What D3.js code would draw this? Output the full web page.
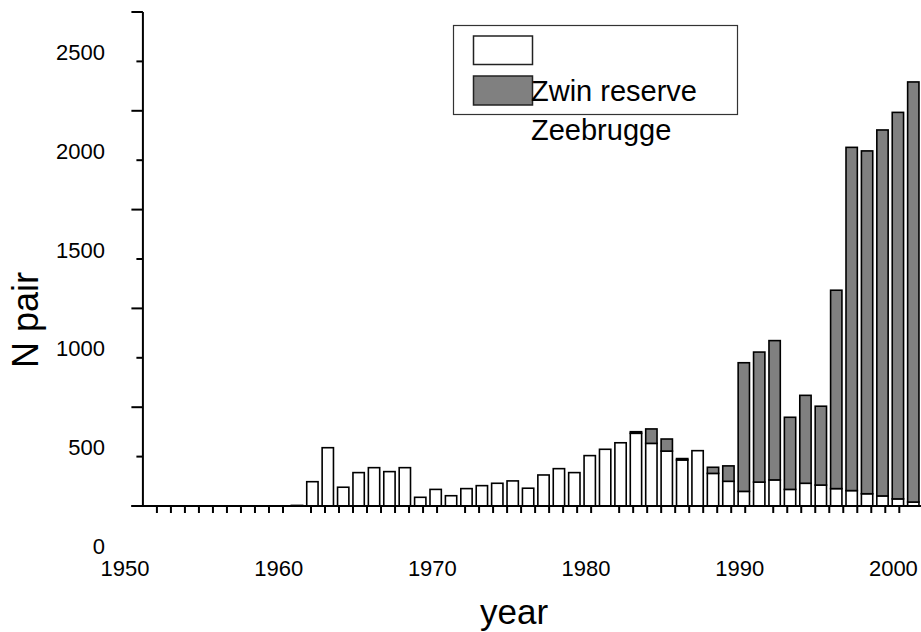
<!DOCTYPE html>
<html>
<head>
<meta charset="utf-8">
<script src="https://cdn.jsdelivr.net/npm/d3@7/dist/d3.min.js"></script>
<style>
  html, body { margin: 0; padding: 0; background: #fff; }
  svg { display: block; font-family: "Liberation Sans", Arial, sans-serif; }
</style>
</head>
<body>
<svg id="chart" width="921" height="632"></svg>
<script>
// ---- data ----
const years = d3.range(1961, 2002);
const zwin = [3, 123, 295, 95, 169, 194, 174, 194, 44, 84, 52, 88, 103, 115, 127, 90, 157, 189, 169, 255,
              287, 320, 368, 317, 278, 233, 280, 165, 125, 74, 121, 132, 84, 115, 106, 88, 78, 62, 51, 36, 20];
const zeebrugge = [0, 0, 0, 0, 0, 0, 0, 0, 0, 0, 0, 0, 0, 0, 0, 0, 0, 0, 0, 0,
                   0, 0, 8, 73, 61, 7, 0, 31, 78, 651, 658, 705, 365, 445, 399, 1004, 1737, 1735, 1852, 1956, 2126];
const seriesNames = ["Zwin reserve", "Zeebrugge"];
const yMajorTicks = [0, 500, 1000, 1500, 2000, 2500];
const yMinorTicks = [250, 750, 1250, 1750, 2250];
const xTickLabels = [1950, 1960, 1970, 1980, 1990, 2000];

const svg = d3.select("#chart");

const x = d3.scaleLinear().domain([1950, 2001]).range([127.5, 913.3]);
const y = d3.scaleLinear().domain([0, 2500]).range([506, 12]);
const step = x(1951) - x(1950);
const bw = step * 0.735;

const table = years.map((yr, i) => ({ year: yr, "Zwin reserve": zwin[i], "Zeebrugge": zeebrugge[i] }));
const stacked = d3.stack().keys(seriesNames)(table);
const fills = { "Zwin reserve": "#ffffff", "Zeebrugge": "#808080" };

// bars
svg.append("g").selectAll("g").data(stacked).join("g")
  .attr("fill", d => fills[d.key])
  .selectAll("rect").data(d => d.filter(p => p[1] - p[0] > 0)).join("rect")
  .attr("x", d => x(d.data.year) - bw / 2)
  .attr("width", bw)
  .attr("y", d => y(d[1]))
  .attr("height", d => Math.max(0.5, y(d[0]) - y(d[1])))
  .attr("stroke", "#000")
  .attr("stroke-width", 1.6);

// y axis
const ax = svg.append("g").attr("stroke", "#000").attr("stroke-width", 2);
ax.append("line").attr("x1", x(1951)).attr("x2", x(1951)).attr("y1", y(2500)).attr("y2", y(0));
ax.selectAll(".ymaj").data(yMajorTicks).join("line")
  .attr("x1", x(1951) - 11.5).attr("x2", x(1951))
  .attr("y1", d => y(d)).attr("y2", d => y(d));
ax.selectAll(".ymin").data(yMinorTicks).join("line")
  .attr("x1", x(1951) - 6.5).attr("x2", x(1951))
  .attr("y1", d => y(d)).attr("y2", d => y(d));

svg.append("g").selectAll("text").data(yMajorTicks).join("text")
  .attr("x", 105).attr("y", d => y(d) + 48)
  .attr("text-anchor", "end").attr("font-size", 22).attr("fill", "#000")
  .text(d => d);

// x axis
ax.append("line").attr("x1", x(1951) - 11.5).attr("x2", 921).attr("y1", y(0)).attr("y2", y(0));
const xMinor = d3.range(1, 55).filter(j => j % 11 !== 0).map(j => 1951 + j * 10 / 11);
ax.selectAll(".xmin").data(xMinor).join("line")
  .attr("x1", d => x(d)).attr("x2", d => x(d))
  .attr("y1", y(0)).attr("y2", y(0) + 7);

svg.append("g").selectAll("text").data(xTickLabels).join("text")
  .attr("x", d => x(d) - 2.5 - (d - 1950) * 0.04).attr("y", 576)
  .attr("text-anchor", "middle").attr("font-size", 22).attr("fill", "#000")
  .text(d => d);

// axis titles
svg.append("text").attr("x", 514).attr("y", 624).attr("text-anchor", "middle")
  .attr("font-size", 35).attr("fill", "#000").text("year");
svg.append("text").attr("transform", "translate(38,320) rotate(-90)").attr("text-anchor", "middle")
  .attr("font-size", 36).attr("fill", "#000").text("N pair");

// legend
const lg = svg.append("g");
lg.append("rect").attr("x", 453.5).attr("y", 25.5).attr("width", 284).attr("height", 89)
  .attr("fill", "none").attr("stroke", "#333").attr("stroke-width", 1.2);
lg.append("rect").attr("x", 473.5).attr("y", 36).attr("width", 59).attr("height", 28.5)
  .attr("fill", fills["Zwin reserve"]).attr("stroke", "#222").attr("stroke-width", 1.5);
lg.append("rect").attr("x", 473.5).attr("y", 76).attr("width", 59).attr("height", 29)
  .attr("fill", fills["Zeebrugge"]).attr("stroke", "#222").attr("stroke-width", 1.5);
lg.append("text").attr("x", 531).attr("y", 100.5).attr("font-size", 29).attr("fill", "#000").text(seriesNames[0]);
lg.append("text").attr("x", 531).attr("y", 140).attr("font-size", 29).attr("fill", "#000").text(seriesNames[1]);
</script>
</body>
</html>
